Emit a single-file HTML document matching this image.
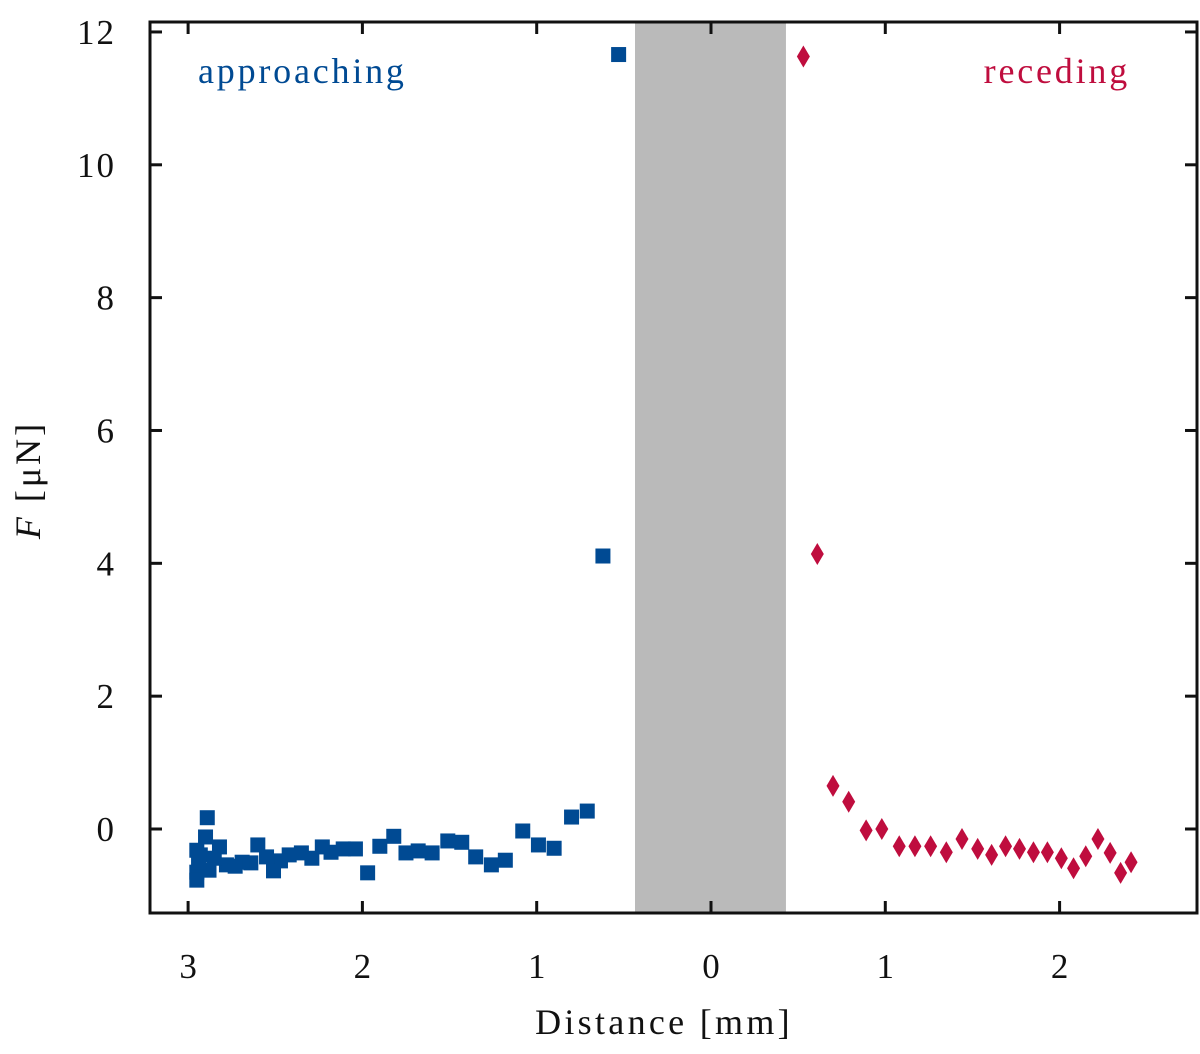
<!DOCTYPE html>
<html><head><meta charset="utf-8"><style>
body{margin:0;background:#fff}
svg text{font-family:"Liberation Serif",serif;fill:#111}
</style></head><body>
<svg width="1200" height="1049" viewBox="0 0 1200 1049">
<g id="plot"></g>
</svg>
<script>
const xTicksLeft=[3,2,1,0];
const xTicksRight=[1,2];
const yTicks=[0,2,4,6,8,10,12];
const approachD=[0.53,0.62,0.71,0.80,0.90,0.99,1.08,1.18,1.26,1.35,1.43,1.51,1.60,1.68,1.75,1.82,1.90,1.97,2.04,2.11,2.18,2.23,2.29,2.35,2.42,2.47,2.51,2.55,2.60,2.64,2.69,2.73,2.78,2.82,2.85,2.89,2.88,2.90,2.93,2.95,2.95,2.95,2.94];
const approachF=[11.66,4.11,0.27,0.18,-0.29,-0.24,-0.03,-0.47,-0.54,-0.42,-0.2,-0.18,-0.36,-0.33,-0.36,-0.11,-0.26,-0.66,-0.3,-0.3,-0.35,-0.27,-0.44,-0.36,-0.39,-0.48,-0.63,-0.42,-0.24,-0.51,-0.5,-0.56,-0.54,-0.27,-0.44,0.17,-0.62,-0.12,-0.39,-0.65,-0.32,-0.77,-0.5];
const recedeD=[0.53,0.61,0.70,0.79,0.89,0.98,1.08,1.17,1.26,1.35,1.44,1.53,1.61,1.69,1.77,1.85,1.93,2.01,2.08,2.15,2.22,2.29,2.35,2.41];
const recedeF=[11.63,4.14,0.65,0.41,-0.02,0,-0.26,-0.26,-0.26,-0.35,-0.15,-0.3,-0.39,-0.26,-0.3,-0.35,-0.35,-0.44,-0.59,-0.41,-0.15,-0.36,-0.66,-0.5];
const contactBand=[-0.436,0.43];

const NS="http://www.w3.org/2000/svg";
const L=150,R=1197,T=22,B=913;
const x0=711,kx=174.3;
const xa=d=>x0-d*kx, xr=d=>x0+d*kx;
const y=v=>829-v*66.42;
const g=document.getElementById('plot');
function mk(t,a,p){const e=document.createElementNS(NS,t);for(const k in a)e.setAttribute(k,a[k]);(p||g).appendChild(e);return e;}

let band=mk('rect',{x:xr(contactBand[0]),y:T,width:xr(contactBand[1])-xr(contactBand[0]),height:B-T,fill:'#bababa'});



approachD.forEach((d,i)=>{const s=15;
 const e=mk('rect',{x:xa(d)-s/2,y:y(approachF[i])-s/2,width:s,height:s,fill:'#004a93'});
 
 });
recedeD.forEach((d,i)=>{const cx=xr(d),cy=y(recedeF[i]);
 const e=mk('polygon',{points:`${cx},${cy-11} ${cx+6.5},${cy} ${cx},${cy+11} ${cx-6.5},${cy}`,fill:'#bf0d3e'});
 
 });

let fr=mk('rect',{x:L,y:T,width:R-L,height:B-T,fill:'none',stroke:'#111','stroke-width':3});



const xt=[...xTicksLeft.map(v=>[xa(v),v]),...xTicksRight.map(v=>[xr(v),v])];
xt.forEach(([px,v])=>{
 mk('line',{x1:px,x2:px,y1:B,y2:B-12,stroke:'#111','stroke-width':3});
 mk('line',{x1:px,x2:px,y1:T,y2:T+12,stroke:'#111','stroke-width':3});
 const t=mk('text',{x:px,y:978,'font-size':35,'text-anchor':'middle'});t.textContent=v;
 
 });
yTicks.forEach(v=>{const py=y(v);
 mk('line',{x1:L,x2:L+12,y1:py,y2:py,stroke:'#111','stroke-width':3});
 mk('line',{x1:R,x2:R-12,y1:py,y2:py,stroke:'#111','stroke-width':3});
 const t=mk('text',{x:116,y:py+12,'font-size':35,'text-anchor':'end','letter-spacing':2});t.textContent=v;
 
 });
</script>
<svg width="1200" height="1049" style="position:absolute;left:0;top:0">
<text x="664" y="1034" font-size="36" letter-spacing="3.3" text-anchor="middle">Distance [mm]</text>
<text transform="translate(40,480) rotate(-90)" font-size="36" letter-spacing="3" text-anchor="middle"><tspan font-style="italic">F</tspan> [μN]</text>
<text x="198" y="83" font-size="36" letter-spacing="2.8" style="fill:#004a93">approaching</text>
<text x="1130" y="83" font-size="36" letter-spacing="2.8" text-anchor="end" style="fill:#bf0d3e">receding</text>
</svg>
</body></html>
